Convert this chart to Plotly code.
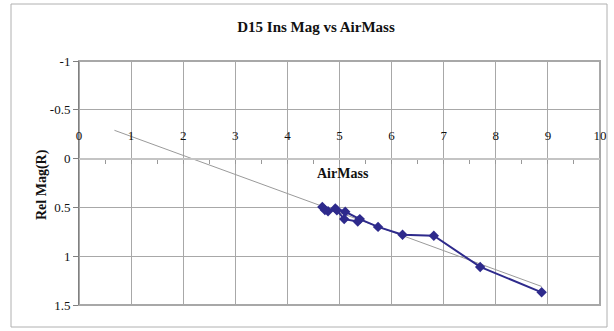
import plotly.graph_objects as go

# Data
airmass = [8.88, 7.70, 6.81, 6.21, 5.74, 5.39, 5.11, 4.92, 4.78, 4.67, 4.72, 4.95, 5.09, 5.35]
rel_mag = [1.37, 1.11, 0.79, 0.78, 0.70, 0.62, 0.545, 0.51, 0.54, 0.495, 0.527, 0.53, 0.62, 0.645]
trend_x = [0.68, 8.88]
trend_y = [-0.29, 1.31]
x_ticks = list(range(0, 11))
y_ticks = [-1, -0.5, 0, 0.5, 1, 1.5]
y_labels = ["-1", "-0.5", "0", "0.5", "1", "1.5"]

FONT = "Liberation Serif"
NAVY = "#2e2a8c"
TXT = "#111111"

fig = go.Figure()
fig.add_trace(go.Scatter(x=trend_x, y=trend_y, mode="lines",
                         line=dict(color="#9a9a9a", width=1), hoverinfo="skip",
                         showlegend=False))
fig.add_trace(go.Scatter(x=airmass, y=rel_mag, mode="lines+markers",
                         line=dict(color=NAVY, width=2),
                         marker=dict(symbol="diamond", size=8, color=NAVY),
                         showlegend=False))

L, R, T, B = 79, 14, 61, 26
W, H = 614, 331
pw, ph = W - L - R, H - T - B

fig.update_layout(
    width=W, height=H,
    margin=dict(l=L, r=R, t=T, b=B, autoexpand=False),
    paper_bgcolor="white", plot_bgcolor="white",
    font=dict(family=FONT, color=TXT, size=13),
    title=dict(text="<b>D15 Ins Mag vs AirMass</b>", x=316 / W,
               xanchor="center", y=1 - 27 / H, yanchor="middle",
               font=dict(family=FONT, size=15, color=TXT)),
    xaxis=dict(range=[0, 10], tickvals=x_ticks, ticktext=[str(v) for v in x_ticks],
               side="top", anchor="free", position=0.6,
               showline=True, linecolor="#c4c4c4", linewidth=2,
               ticks="inside", ticklen=4, tickcolor="#999999",
               minor=dict(ticks="inside", dtick=0.5, ticklen=4, tickcolor="#999999", showgrid=False),
               showgrid=True, gridcolor="#a8a8a8", gridwidth=1,
               zeroline=False, ticklabelstandoff=12, ticklabeloverflow="allow",
               tickfont=dict(family=FONT, size=13, color=TXT)),
    yaxis=dict(range=[1.5, -1], tickvals=y_ticks, ticktext=y_labels,
               showline=True, linecolor="#808080", linewidth=1,
               ticks="outside", ticklen=5, tickcolor="#808080",
               showgrid=True, gridcolor="#a8a8a8", gridwidth=1, zeroline=False,
               tickfont=dict(family=FONT, size=13, color=TXT)),
)

# plot-area border
fig.add_shape(type="rect", xref="paper", yref="paper", x0=0, x1=1, y0=0, y1=1,
              line=dict(color="#a8a8a8", width=2), layer="below")
# outer chart border
fig.add_shape(type="rect", xref="paper", yref="paper",
              x0=(11 - L) / pw, x1=(607 - L) / pw,
              y0=(H - B - 327) / ph, y1=(H - B - 4) / ph,
              line=dict(color="#b0b0b0", width=1))

fig.add_annotation(text="<b>AirMass</b>", xref="paper", yref="paper",
                   x=(343 - L) / pw, y=(H - B - 173) / ph, showarrow=False,
                   font=dict(family=FONT, size=14, color=TXT))
fig.add_annotation(text="<b>Rel Mag(R)</b>", xref="paper", yref="paper",
                   x=(32 - L) / pw, y=(H - B - 185) / ph, showarrow=False, textangle=-90,
                   font=dict(family=FONT, size=14, color=TXT))

fig.write_html("out.html", config={"displayModeBar": False},
               post_script="document.body.style.margin='0';document.body.style.padding='0';")
